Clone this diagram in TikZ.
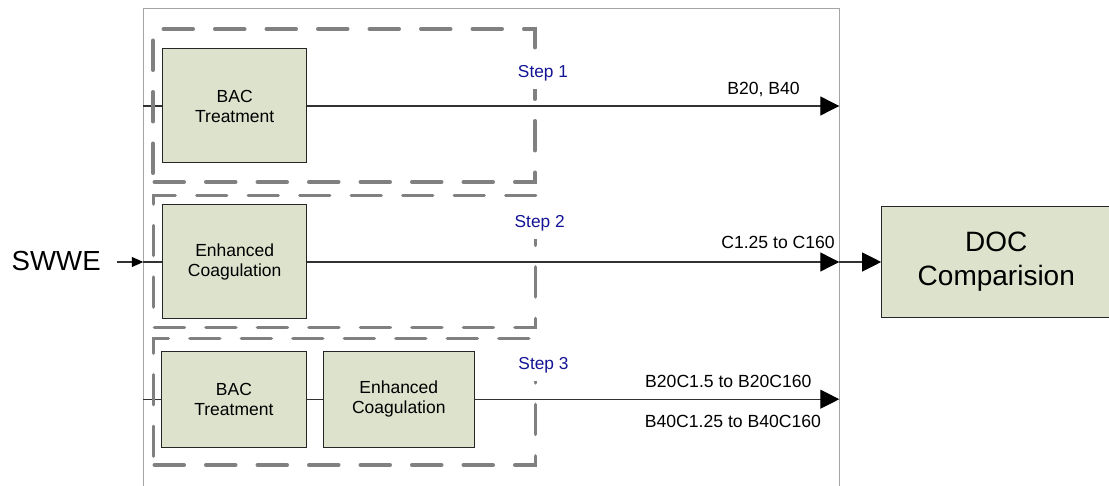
\documentclass[tikz,border=0pt]{standalone}
\usepackage{fontspec}
\setmainfont{Liberation Sans}
\usetikzlibrary{arrows.meta}

\definecolor{boxfill}{RGB}{221,226,204}
\definecolor{stepblue}{RGB}{20,20,150}
\definecolor{dashgray}{RGB}{128,128,128}
\definecolor{framegray}{RGB}{165,165,165}
\definecolor{wirecol}{RGB}{50,50,50}

\begin{document}
\begin{tikzpicture}[x=1pt,y=-1pt,
  procbox/.style={draw=black!85, line width=1pt, fill=boxfill, inner sep=0pt,
    align=center, font=\fontsize{17.5}{20}\selectfont},
  stepgroup/.style={draw=dashgray, line width=3.5pt, line cap=round, line join=miter,
    dash pattern=on 30pt off 21.5pt},
  steplabel/.style={fill=white, text=stepblue, font=\fontsize{17.3}{20}\selectfont,
    inner xsep=3pt, inner ysep=8pt, anchor=base},
  flowlabel/.style={font=\fontsize{17.6}{20}\selectfont, inner sep=0pt},
  conn/.style={draw=wirecol, line width=1.1pt},
  bigarrow/.style={-{Triangle[length=19pt,width=19pt,color=black,fill=black]}},
  smallarrow/.style={-{Triangle[length=11.5pt,width=10pt,color=black,fill=black]}}
]
\useasboundingbox (0,0) rectangle (1109,486);
\clip (0,0) rectangle (1109,486);

% outer frame of the treatment train
\draw[framegray, line width=1pt] (143.3,495) -- (143.3,9) -- (839.3,9) -- (839.3,495);

% process units
\node[procbox, minimum width=144pt, minimum height=114pt] (bac1) at (234.7,106) {BAC\\Treatment};
\node[procbox, minimum width=144pt, minimum height=114pt] (ec2) at (234.7,262) {Enhanced\\Coagulation};
\node[procbox, minimum width=145.7pt, minimum height=96.3pt] (bac3) at (233.9,399.2) {BAC\\Treatment};
\node[procbox, minimum width=151pt, minimum height=96.3pt] (ec3) at (398.8,399.2) {Enhanced\\Coagulation};
\node[procbox, minimum width=236pt, minimum height=111pt, text width=229pt,
  font=\fontsize{28}{34}\selectfont] (doc) at (999.7,262) {\hspace*{-6.8pt}DOC\\\hspace*{-6.8pt}Comparision};

% inlet and outlet points on the frame
\coordinate (in1) at (143.3,106);
\coordinate (out1) at (839.3,106);
\coordinate (in2) at (143.3,262);
\coordinate (out2) at (839.3,262);
\coordinate (in3) at (143.3,399.2);
\coordinate (out3) at (839.3,399.2);

% source water
\node[font=\fontsize{27.6}{32}\selectfont, inner xsep=16.5pt, inner ysep=0pt, anchor=base]
  (swwe) at (56.2,271) {SWWE};
\draw[conn, smallarrow] (swwe.east |- in2) -- (in2);

% flow lines
\draw[conn] (in1) -- (bac1.west);
\draw[conn, bigarrow] (bac1.east) -- (out1);
\draw[conn] (in2) -- (ec2.west);
\draw[conn, bigarrow] (ec2.east) -- (out2);
\draw[conn, bigarrow] (out2) -- (doc.west);
\draw[conn] (in3) -- (bac3.west);
\draw[conn] (bac3.east) -- (ec3.west);
\draw[conn, bigarrow] (ec3.east) -- (out3);

% dashed step groups
\draw[stepgroup, dash phase=42.75pt] (153,182) -- (153,29) -- (535,29) -- (535,182) -- cycle;
\draw[stepgroup, dash phase=31.75pt] (535.7,195.7) -- (535.7,327.7) -- (153.6,327.7) -- (153.6,195.7) -- cycle;
\draw[stepgroup, dash phase=42.75pt] (153.3,465) -- (153.3,338.3) -- (535.7,338.3) -- (535.7,465) -- cycle;

% step labels
\node[steplabel] (s1) at (543,77.3) {Step 1};
\node[steplabel] (s2) at (539.7,227.3) {Step 2};
\node[steplabel] (s3) at (543.5,369.3) {Step 3};

% flow labels
\node[flowlabel, anchor=base east] (l1) at (800,95) {B20, B40};
\node[flowlabel, anchor=base east] (l2) at (835,249) {C1.25 to C160};
\node[flowlabel, anchor=base west] (l3a) at (645,387.7) {B20C1.5 to B20C160};
\node[flowlabel, anchor=base west] (l3b) at (644.7,427.3) {B40C1.25 to B40C160};
\end{tikzpicture}
\end{document}
